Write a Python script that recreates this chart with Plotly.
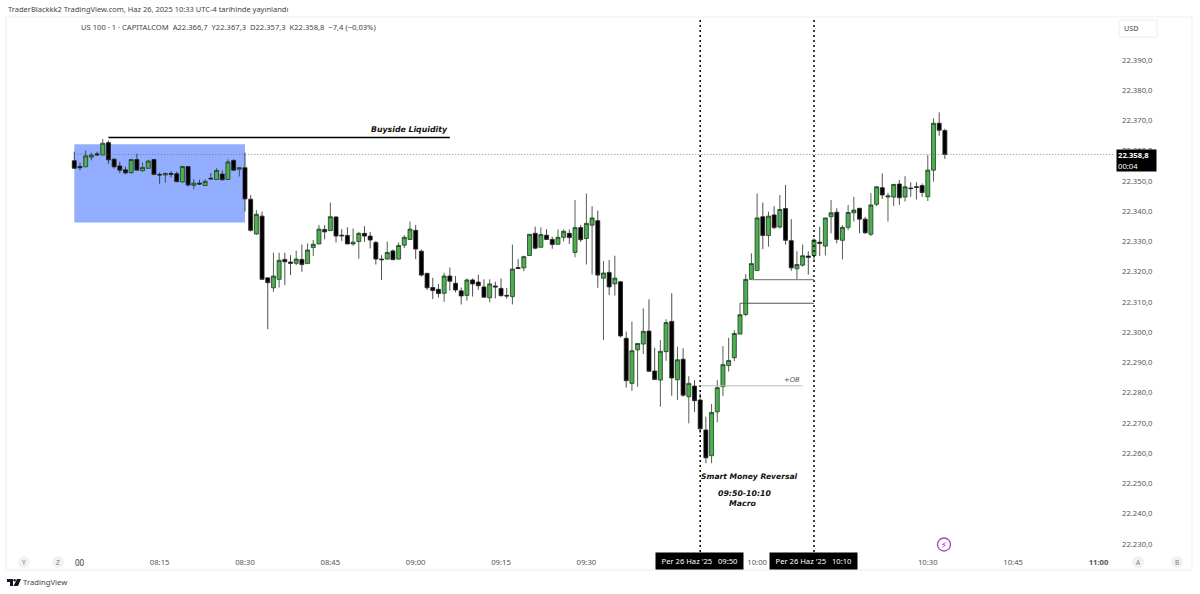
import plotly.graph_objects as go
import pandas as pd

# ---------- data ----------
opens = [22356.7,22354.8,22354.7,22357.9,22359.0,22358.6,22362.7,22357.2,22355.0,22353.7,
22352.8,22357.1,22353.4,22354.2,22357.1,22352.2,22352.0,22352.5,22352.4,22349.7,
22354.8,22348.6,22349.3,22348.5,22350.9,22350.5,22352.3,22350.5,22356.8,22353.9,
22354.4,22344.0,22332.5,22338.4,22318.0,22314.7,22317.5,22324.1,22323.2,22322.8,
22324.1,22322.7,22328.0,22329.2,22334.0,22333.6,22338.1,22332.1,22332.0,22329.2,
22330.0,22332.7,22331.8,22329.7,22324.2,22324.2,22326.9,22324.2,22328.8,22330.7,
22333.7,22326.8,22319.5,22314.8,22314.2,22312.9,22318.6,22316.2,22313.7,22312.2,
22317.3,22316.6,22315.0,22311.4,22315.3,22314.5,22312.2,22311.8,22321.4,22321.3,
22325.4,22332.7,22328.1,22332.1,22330.7,22329.1,22331.4,22332.7,22326.4,22334.6,
22331.0,22335.4,22336.9,22317.9,22319.8,22316.0,22316.7,22298.0,22283.1,22294.2,
22296.1,22300.4,22287.2,22284.2,22293.6,22303.6,22284.3,22291.1,22278.7,22282.2,
22277.6,22267.7,22259.2,22273.7,22282.0,22289.0,22291.6,22299.4,22305.9,22317.5,
22320.4,22338.2,22332.0,22338.8,22334.8,22340.9,22330.3,22321.0,22322.2,22325.2,
22325.4,22329.8,22328.5,22338.2,22339.7,22330.4,22334.7,22339.5,22341.0,22337.4,
22332.4,22342.3,22347.8,22344.7,22344.7,22349.0,22344.7,22347.7,22348.1,22348.5,
22344.8,22353.6,22369.1,22366.7]
closes = [22354.2,22354.4,22358.3,22358.6,22358.6,22362.5,22357.0,22354.7,22353.6,22352.7,
22357.1,22353.6,22354.5,22356.6,22352.2,22352.0,22352.5,22352.2,22349.8,22354.8,
22348.7,22349.3,22349.0,22349.9,22350.7,22353.5,22350.4,22356.3,22353.6,22354.4,
22344.1,22333.7,22339.0,22317.5,22316.4,22318.6,22323.8,22323.3,22322.8,22324.2,
22322.4,22327.2,22329.1,22334.1,22333.2,22338.2,22331.8,22331.9,22329.2,22329.8,
22332.7,22331.8,22330.5,22324.2,22324.0,22326.4,22324.0,22328.7,22331.4,22334.1,
22327.5,22318.9,22314.7,22313.8,22312.8,22318.6,22316.9,22314.0,22312.0,22317.3,
22316.0,22315.4,22311.6,22316.0,22315.0,22312.1,22312.0,22320.9,22321.1,22325.0,
22332.4,22327.8,22332.3,22330.7,22329.0,22331.4,22333.4,22331.3,22334.6,22330.6,
22336.0,22337.8,22318.9,22319.6,22315.0,22317.9,22298.8,22284.0,22293.9,22296.3,
22300.3,22287.1,22284.4,22293.7,22303.2,22284.9,22290.9,22279.2,22283.1,22277.4,
22268.1,22258.5,22273.5,22281.7,22289.3,22290.7,22299.6,22305.8,22317.5,22322.7,
22337.8,22332.0,22338.4,22334.6,22340.6,22330.4,22321.3,22322.4,22325.3,22324.8,
22330.5,22329.4,22337.8,22339.5,22330.7,22334.7,22339.6,22340.4,22337.4,22332.9,
22342.1,22348.1,22345.4,22345.1,22348.9,22344.5,22348.1,22347.5,22347.9,22346.2,
22353.6,22369.1,22366.8,22358.8]
highs = [22359.7,22356.1,22360.1,22359.4,22359.7,22363.9,22363.4,22357.5,22356.4,22354.8,
22357.3,22359.0,22356.1,22357.0,22357.3,22352.8,22352.8,22353.3,22353.1,22355.1,
22355.0,22350.6,22350.4,22350.6,22352.6,22354.2,22353.5,22357.2,22357.2,22354.5,
22359.4,22345.4,22340.4,22339.9,22318.0,22326.3,22326.3,22326.3,22325.5,22327.0,
22329.0,22329.4,22330.5,22335.5,22335.5,22342.9,22338.4,22334.1,22334.7,22334.3,
22333.2,22335.1,22333.2,22330.2,22325.5,22330.0,22327.4,22329.7,22332.1,22336.6,
22335.5,22327.4,22319.5,22318.0,22316.0,22319.7,22321.4,22318.6,22314.8,22317.8,
22317.8,22319.1,22317.5,22317.5,22316.7,22317.8,22314.7,22329.0,22324.2,22325.3,
22332.4,22334.9,22334.7,22334.1,22331.6,22334.0,22334.0,22334.0,22343.7,22335.5,
22345.9,22341.7,22340.2,22323.6,22323.9,22325.3,22316.9,22300.2,22303.5,22296.3,
22307.9,22310.9,22294.9,22297.4,22304.3,22312.9,22295.2,22294.7,22285.5,22284.2,
22279.8,22272.1,22276.3,22284.2,22295.4,22298.2,22300.7,22309.6,22319.2,22326.1,
22345.9,22342.9,22339.9,22341.7,22345.4,22348.7,22337.4,22326.8,22329.0,22326.8,
22331.0,22334.9,22337.8,22343.7,22341.0,22335.4,22342.1,22344.8,22341.0,22338.2,
22346.0,22348.3,22352.5,22346.1,22349.0,22350.3,22351.6,22349.6,22349.6,22349.2,
22358.6,22370.7,22372.7,22367.3]
lows = [22354.2,22353.5,22354.7,22356.8,22358.4,22358.6,22355.7,22354.1,22352.6,22352.2,
22352.4,22353.4,22353.1,22354.1,22352.2,22349.1,22349.4,22351.2,22349.6,22349.5,
22348.2,22347.3,22348.7,22348.3,22350.6,22350.4,22350.3,22350.4,22353.4,22351.5,
22339.9,22333.3,22332.2,22317.5,22301.0,22313.4,22314.8,22315.6,22318.9,22322.2,
22320.0,22322.7,22325.2,22329.1,22330.7,22333.5,22329.7,22330.2,22329.2,22328.6,
22324.3,22329.9,22327.7,22322.4,22317.3,22324.1,22323.9,22324.1,22327.8,22330.5,
22324.2,22318.4,22314.0,22311.0,22311.5,22310.1,22313.8,22313.2,22309.2,22310.4,
22311.8,22314.0,22311.4,22309.9,22311.2,22311.8,22311.1,22309.2,22321.1,22320.2,
22325.3,22327.4,22328.0,22330.5,22327.6,22329.0,22330.0,22329.2,22324.8,22329.9,
22322.4,22319.1,22314.7,22297.4,22312.3,22312.1,22298.3,22281.7,22280.6,22282.0,
22292.8,22286.9,22284.2,22275.4,22290.6,22279.0,22277.6,22278.7,22269.9,22273.7,
22266.6,22256.7,22256.7,22270.2,22278.9,22287.0,22290.5,22299.4,22305.3,22317.3,
22320.4,22327.5,22328.3,22334.1,22334.3,22329.0,22320.3,22317.3,22321.7,22319.1,
22323.9,22325.2,22325.4,22332.7,22329.4,22324.1,22333.8,22336.6,22332.7,22332.5,
22331.8,22341.7,22344.1,22336.6,22341.7,22342.1,22343.2,22344.8,22343.9,22344.8,
22343.4,22349.8,22365.0,22357.3]

start_time = "2025-06-26 08:00"
y_ticks = [22390,22380,22370,22360,22350,22340,22330,22320,22310,22300,22290,22280,22270,22260,22250,22240,22230]
y_labels = ["22.390,0","22.380,0","22.370,0","22.360,0","22.350,0","22.340,0","22.330,0","22.320,0","22.310,0","22.300,0","22.290,0","22.280,0","22.270,0","22.260,0","22.250,0","22.240,0","22.230,0"]
x_ticks = ["2025-06-26 08:15","2025-06-26 08:30","2025-06-26 08:45","2025-06-26 09:00","2025-06-26 09:15","2025-06-26 09:30","2025-06-26 10:00","2025-06-26 10:30","2025-06-26 10:45","2025-06-26 11:00"]
x_labels = ["08:15","08:30","08:45","09:00","09:15","09:30","10:00","10:30","10:45","<b>11:00</b>"]

times = pd.date_range(start_time, periods=len(opens), freq="min")
W, H = 1200, 594
L, R, T, B = 8, 1115, 18, 552
FONT = "Noto Sans"
LABEL = "DejaVu Sans"

def px(x): return (x - L) / (R - L)
def py(y): return (B - y) / (B - T)

fig = go.Figure(go.Candlestick(
    x=times, open=opens, high=highs, low=lows, close=closes,
    increasing=dict(line=dict(color="#1f3b22", width=0.8), fillcolor="#4CAF50"),
    decreasing=dict(line=dict(color="#222222", width=0.8), fillcolor="#000000"),
    whiskerwidth=0, showlegend=False, hoverinfo="skip"))

D = "2025-06-26 "
DOTS = "1px,2px"
shapes = [
    dict(type="rect", xref="paper", yref="paper", x0=px(6), x1=px(1192), y0=py(570), y1=py(17),
         line=dict(color="#eeeeee", width=1), layer="below"),
    dict(type="rect", x0=D+"08:00", x1=D+"08:30", y0=22336.3, y1=22362.2, fillcolor="#94AEFF",
         line=dict(width=0), layer="below"),
    dict(type="line", x0=D+"08:06", x1=D+"09:06", y0=22364.4, y1=22364.4, line=dict(color="#000000", width=1.6)),
    dict(type="line", x0=D+"08:00", x1=D+"11:03", y0=22358.8, y1=22358.8, line=dict(color="#666666", width=0.8, dash=DOTS)),
    dict(type="line", x0=D+"09:50", x1=D+"09:50", y0=0, y1=1, yref="paper", line=dict(color="#000000", width=1.5, dash="2px,3px")),
    dict(type="line", x0=D+"10:10", x1=D+"10:10", y0=0, y1=1, yref="paper", line=dict(color="#000000", width=1.5, dash="2px,3px")),
    dict(type="line", x0=D+"09:50", x1=D+"10:08", y0=22282.3, y1=22282.3, line=dict(color="#bbbbbb", width=1)),
    dict(type="line", x0=D+"09:57", x1=D+"10:10", y0=22309.6, y1=22309.6, line=dict(color="#555555", width=1)),
    dict(type="line", x0=D+"09:59", x1=D+"10:10", y0=22317.4, y1=22317.4, line=dict(color="#888888", width=1.4)),
    dict(type="rect", xref="paper", yref="paper", x0=px(1119), x1=px(1157), y0=py(37), y1=py(20),
         fillcolor="#ffffff", line=dict(color="#eeeeee", width=1)),
]
for cx in (24, 58, 1138, 1177):
    shapes.append(dict(type="circle", xref="paper", yref="paper", x0=px(cx-6), x1=px(cx+6), y0=py(568), y1=py(556),
                       fillcolor="#f2f2f2", line=dict(width=0)))
shapes.append(dict(type="circle", xref="paper", yref="paper", x0=px(937.5), x1=px(950.5), y0=py(551), y1=py(538),
                   fillcolor="#ffffff", line=dict(color="#a93cc8", width=1.3)))
# TradingView logo
shapes.append(dict(type="path", xref="paper", yref="paper", fillcolor="#131722", line=dict(width=0),
    path=f"M {px(7)} {py(579)} L {px(13)} {py(579)} L {px(13)} {py(586)} L {px(10)} {py(586)} L {px(10)} {py(582)} L {px(7)} {py(582)} Z"))
shapes.append(dict(type="path", xref="paper", yref="paper", fillcolor="#131722", line=dict(width=0),
    path=f"M {px(17)} {py(579)} L {px(21)} {py(579)} L {px(18)} {py(586)} L {px(13.5)} {py(586)} Z"))
shapes.append(dict(type="circle", xref="paper", yref="paper", fillcolor="#131722", line=dict(width=0),
    x0=px(13.5), x1=px(15.8), y0=py(581.5), y1=py(579)))

def note(x, y, text, size=7.7, color="#555555", anchor="center", family=FONT, **kw):
    return dict(xref="paper", yref="paper", x=px(x), y=py(y), text=text, showarrow=False,
                xanchor=anchor, yanchor="middle", font=dict(size=size, color=color, family=family), **kw)

anns = [
    note(6, 9, "TraderBlackkk2 TradingView.com, Haz 26, 2025 10:33 UTC-4 tarihinde yayınlandı", 7.5, "#444444", "left"),
    note(78.5, 27, "US 100 · 1 · CAPITALCOM  A22.366,7  Y22.367,3  D22.357,3  K22.358,8  −7,4 (−0,03%)", 7.6, "#444444", "left"),
    note(409, 130, "<b><i>Buyside Liquidity</i></b>", 7.8, "#111111", family=LABEL),
    note(792, 380, "<i>+OB</i>", 6.8, "#555555", family=LABEL),
    note(749, 476, "<b><i>Smart Money Reversal</i></b>", 7.6, "#111111", family=LABEL),
    note(744.5, 493, "<b><i>09:50-10:10</i></b>", 7.8, "#111111", family=LABEL),
    note(742, 503, "<b><i>Macro</i></b>", 7.8, "#111111", family=LABEL),
    note(1131, 28.5, "USD", 7.2, "#444444"),
    note(1136.5, 160, "<b>22.358,8</b><br>00:04", 7.7, "#ffffff", bgcolor="#000000", width=37, height=19, align="left"),
    note(699.5, 561, "Per 26 Haz '25   09:50", 7.6, "#ffffff", bgcolor="#000000", width=85, height=14),
    note(813.5, 561, "Per 26 Haz '25   10:10", 7.6, "#ffffff", bgcolor="#000000", width=85, height=14),
    note(24, 562, "Y", 6.5, "#777777"), note(58, 562, "Z", 6.5, "#777777"),
    note(1138, 562, "A", 6.5, "#777777"), note(1177, 562, "B", 6.5, "#777777"),
    note(79.5, 562, "00", 8, "#333333"),
    note(944, 544.5, "⚡", 8.5, "#a93cc8", family="DejaVu Sans"),
    note(20.5, 582, "TradingView", 7.7, "#444444", "left"),
]

fig.update_layout(
    width=W, height=H, paper_bgcolor="#ffffff", plot_bgcolor="#ffffff",
    margin=dict(l=L, r=W-R, t=T, b=H-B, pad=0), boxgap=0.3, boxgroupgap=0,
    shapes=shapes, annotations=anns, showlegend=False,
    xaxis=dict(type="date", range=[D+"07:48:21", D+"11:02:54"], rangeslider=dict(visible=False),
               showgrid=False, zeroline=False, showline=False, ticks="", tickvals=x_ticks, ticktext=x_labels,
               tickfont=dict(family=FONT, size=7.7, color="#555555"), ticklabelstandoff=4),
    yaxis=dict(side="right", range=[22227.36, 22403.9], showgrid=False, zeroline=False, showline=False, ticks="",
               tickvals=y_ticks, ticktext=y_labels, tickfont=dict(family=FONT, size=7.7, color="#555555"),
               ticklabelstandoff=6),
)
fig.write_html("out.html", config=dict(displayModeBar=False), post_script="document.body.style.margin='0';")
